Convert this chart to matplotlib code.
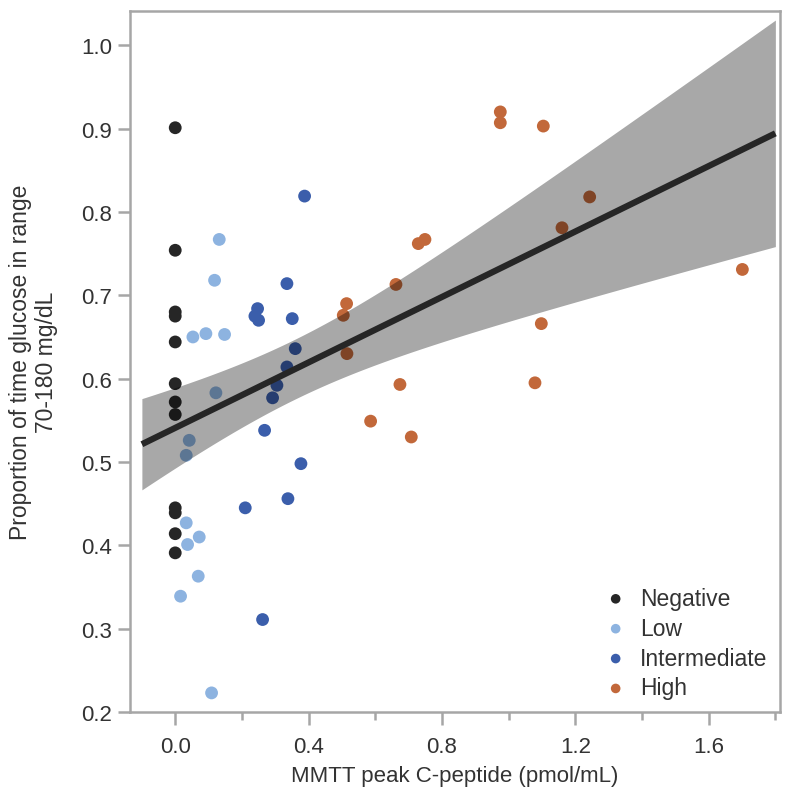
import numpy as np
import matplotlib
matplotlib.use("Agg")
import matplotlib.pyplot as plt
from matplotlib.ticker import MultipleLocator

plt.rcParams["font.family"] = ["Liberation Sans", "DejaVu Sans"]

# data
neg_x = [0.0] * 12
neg_y = [0.901, 0.754, 0.680, 0.675, 0.644, 0.594, 0.572, 0.557, 0.445, 0.439, 0.414, 0.391]

low_x = [0.132, 0.118, 0.053, 0.092, 0.148, 0.122, 0.042, 0.033, 0.033, 0.072, 0.037, 0.069, 0.016, 0.109]
low_y = [0.767, 0.718, 0.650, 0.654, 0.653, 0.583, 0.526, 0.508, 0.427, 0.410, 0.401, 0.363, 0.339, 0.223]

int_x = [0.388, 0.335, 0.247, 0.239, 0.250, 0.351, 0.360, 0.335, 0.305, 0.292, 0.268, 0.377, 0.338, 0.210, 0.262]
int_y = [0.819, 0.714, 0.684, 0.675, 0.670, 0.672, 0.636, 0.614, 0.592, 0.577, 0.538, 0.498, 0.456, 0.445, 0.311]

high_x = [0.975, 0.975, 1.104, 1.243, 1.160, 1.701, 1.098, 1.079, 0.749, 0.729,
          0.662, 0.514, 0.504, 0.515, 0.674, 0.586, 0.708]
high_y = [0.920, 0.907, 0.903, 0.818, 0.781, 0.731, 0.666, 0.595, 0.767, 0.762,
          0.713, 0.690, 0.676, 0.630, 0.593, 0.549, 0.530]

groups = ["Negative", "Low", "Intermediate", "High"]
colors = ["#262626", "#8db3e0", "#3b5eab", "#c2683a"]

fig = plt.figure(figsize=(7.94, 8.03), dpi=100)
ax = fig.add_axes([0.164, 0.112, 0.818, 0.873])

series = [(neg_x, neg_y), (low_x, low_y), (int_x, int_y), (high_x, high_y)]
for (xs, ys), name, c in zip(series, groups, colors):
    ax.scatter(xs, ys, s=85, color=c, edgecolors="none", label=name, zorder=2)

# linear fit with 95% CI
x_all = np.concatenate([np.array(s[0]) for s in series])
y_all = np.concatenate([np.array(s[1]) for s in series])
n = len(x_all)
b, a = np.polyfit(x_all, y_all, 1)
resid = y_all - (a + b * x_all)
s_err = np.sqrt(np.sum(resid ** 2) / (n - 2))
xbar = x_all.mean()
sxx = np.sum((x_all - xbar) ** 2)
xf = np.linspace(-0.1, 1.8, 200)
yf = a + b * xf
half = 2.002 * s_err * np.sqrt(1 / n + (xf - xbar) ** 2 / sxx)
ax.fill_between(xf, yf - half, yf + half, color="black", alpha=0.34, linewidth=0, zorder=3)
ax.plot(xf, yf, color="#262626", linewidth=4.5, zorder=4, solid_capstyle="butt")

ax.set_xlim(-0.135, 1.813)
ax.set_ylim(0.2, 1.041)
ax.xaxis.set_major_locator(MultipleLocator(0.4))
ax.xaxis.set_minor_locator(MultipleLocator(0.2))
ax.yaxis.set_major_locator(MultipleLocator(0.1))
ax.xaxis.set_major_formatter(plt.FormatStrFormatter("%.1f"))
ax.yaxis.set_major_formatter(plt.FormatStrFormatter("%.1f"))

spine_c = "#a6a6a6"
for sp in ax.spines.values():
    sp.set_color(spine_c)
    sp.set_linewidth(1.8)
ax.tick_params(which="both", color=spine_c, width=1.8, labelcolor="#333333", labelsize=16)
ax.tick_params(which="major", length=9)
ax.tick_params(axis="y", which="major", pad=4)
ax.tick_params(axis="x", which="major", pad=8)
ax.tick_params(which="minor", length=6)

ax.set_xlabel("MMTT peak C-peptide (pmol/mL)", fontsize=16, color="#333333", labelpad=6)
ax.set_ylabel("Proportion of time glucose in range\n70-180 mg/dL", fontsize=16.5,
              color="#333333", labelpad=17, linespacing=1.15)

ax.legend(loc="lower right", frameon=False, fontsize=16.5, handletextpad=0.05,
          borderaxespad=0.15, labelspacing=0.3, markerscale=0.75,
          labelcolor="#333333")

fig.savefig("out.png", dpi=100)
